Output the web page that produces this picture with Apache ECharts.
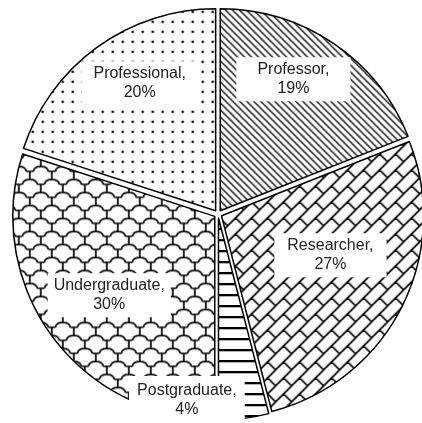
<!DOCTYPE html>
<html>
<head>
<meta charset="utf-8">
<script src="https://cdn.jsdelivr.net/npm/echarts@6/dist/echarts.min.js"></script>
<style>
html,body{margin:0;padding:0;background:#fff;}
#chart{width:422px;height:423px;}
</style>
</head>
<body>
<div id="chart"></div>
<script>
// ---- data ----
const categories = ['Professor', 'Researcher', 'Postgraduate', 'Undergraduate', 'Professional'];
const values = [19, 27, 4, 30, 20];

// ---- label placement (radius fraction, angle shift in degrees, padding) ----
const labelRadius = [0.74, 0.575, 0.92, 0.655, 0.73];
const labelShift = [4.9, 6.6, -17, 1.1, -5];
const labelPad = [[3, 21], [3, 13], [5, 8], [3, 6], [3, 12]];

const CX = 218, CY = 214, R = 202;

function tile(w, h, draw) {
  const c = document.createElement('canvas');
  c.width = w; c.height = h;
  const g = c.getContext('2d');
  g.fillStyle = '#fff'; g.fillRect(0, 0, w, h);
  g.strokeStyle = '#000'; g.fillStyle = '#000';
  draw(g, w, h);
  return c;
}

// Professor: diagonal "\" hatching
const pProfessor = tile(7, 7, (g, w, h) => {
  g.lineWidth = 1.25;
  g.beginPath();
  for (let k = -w; k <= w; k += w) { g.moveTo(k - 1, -1); g.lineTo(k + w + 1, h + 1); }
  g.stroke();
});

// Researcher: brick pattern rotated 45 degrees
const T = 16;
const pResearcher = tile(T, T, (g) => {
  const bw = T * Math.SQRT2, bh = bw / 2;
  g.save();
  g.translate(T / 2, T / 2);
  g.rotate(-Math.PI / 4);
  g.lineWidth = 1.7;
  g.beginPath();
  for (let n = -4; n <= 4; n++) {
    g.moveTo(-80, n * bh); g.lineTo(80, n * bh);
    for (let m = -4; m <= 4; m++) {
      const x = m * bw + ((n % 2 !== 0) ? bw / 2 : 0);
      g.moveTo(x, n * bh); g.lineTo(x, (n + 1) * bh);
    }
  }
  g.stroke();
  g.restore();
});

// Postgraduate: horizontal lines
const pPostgraduate = tile(4, 11, (g, w) => {
  g.fillRect(0, 4, w, 2.3);
});

// Undergraduate: scale pattern with T junctions
const SW = 22, SH = 26;
const pUndergraduate = tile(SW, SH, (g) => {
  g.lineWidth = 1.7;
  const half = 3.5, a = 5, s = SH / 2 - a;
  g.beginPath();
  for (let row = -2; row <= 3; row++) {
    const y = row * SH / 2;
    const off = (row % 2 !== 0) ? SW / 2 : 0;
    for (let col = -2; col <= 2; col++) {
      const x = col * SW + off;
      g.moveTo(x - half, y); g.lineTo(x + half, y);
      g.moveTo(x, y); g.lineTo(x, y + s);
      g.moveTo(x + half, y);
      g.bezierCurveTo(x + half + 1, y - a * 1.3, x + SW - half - 1, y - a * 1.3, x + SW - half, y);
    }
  }
  g.stroke();
});

// Professional: dots
const pProfessional = tile(10, 10, (g) => {
  g.beginPath(); g.arc(5, 5, 1.35, 0, Math.PI * 2); g.fill();
});

const patterns = [pProfessor, pResearcher, pPostgraduate, pUndergraduate, pProfessional];

const total = values.reduce((a, b) => a + b, 0);
const midAngles = [];
let acc = 0;
values.forEach(v => { midAngles.push(90 - (acc + v / 2) / total * 360); acc += v; });

const chart = echarts.init(document.getElementById('chart'), null, { renderer: 'canvas' });

const data = categories.map((name, i) => {
  const st = { color: { image: patterns[i], repeat: 'repeat' }, borderColor: '#000', borderWidth: 1.5 };
  return {
    name: name,
    value: values[i],
    selected: true,
    itemStyle: st,
    select: { itemStyle: st },
    label: { padding: labelPad[i] }
  };
});

chart.setOption({
  animation: false,
  series: [{
    type: 'pie',
    center: [CX, CY],
    radius: [0, R],
    startAngle: 90,
    clockwise: true,
    selectedMode: 'multiple',
    selectedOffset: 4,
    avoidLabelOverlap: false,
    emphasis: { disabled: true, scale: false },
    label: {
      show: true,
      position: 'inside',
      formatter: '{b},\n{c}%',
      fontFamily: 'Liberation Sans, Arial, sans-serif',
      fontSize: 16,
      lineHeight: 19,
      color: '#222',
      backgroundColor: '#fff'
    },
    labelLine: { show: false },
    labelLayout: function (p) {
      const i = p.dataIndex;
      const ang = (midAngles[i] + labelShift[i]) * Math.PI / 180;
      const rr = labelRadius[i] * R;
      const tx = CX + rr * Math.cos(ang);
      const ty = CY - 1 - rr * Math.sin(ang);
      const lr = p.labelRect;
      return {
        dx: tx - (lr.x + lr.width / 2),
        dy: ty - (lr.y + lr.height / 2)
      };
    },
    data: data
  }]
});
</script>
</body>
</html>
